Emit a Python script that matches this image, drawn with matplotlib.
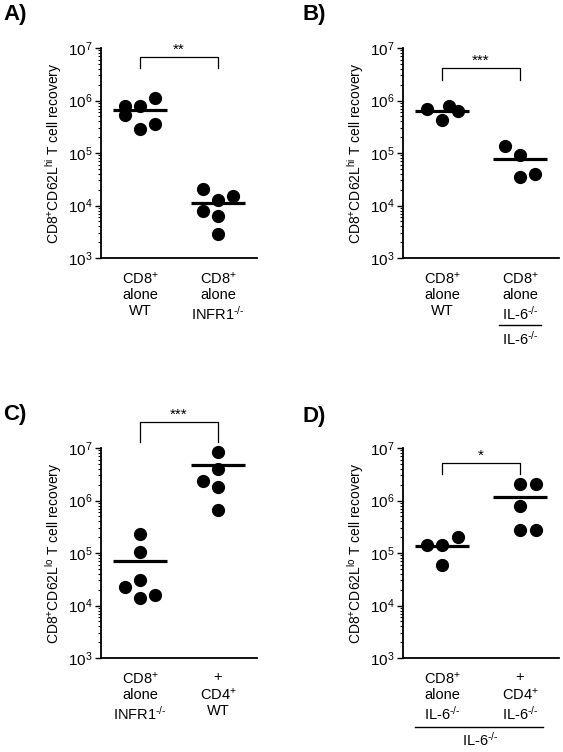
import numpy as np
import matplotlib
matplotlib.use("Agg")
import matplotlib.pyplot as plt
import matplotlib.transforms as mtransforms

plt.rcParams.update({
    "font.family": ["Liberation Sans", "DejaVu Sans"],
    "mathtext.fontset": "custom",
    "mathtext.rm": "Liberation Sans",
    "mathtext.it": "Liberation Sans:italic",
    "mathtext.bf": "Liberation Sans:bold",
    "font.size": 10,
})

KO = "$^{\\text{-/-}}$"

# panel A: CD62L hi recovery, WT vs INFR1-/-
a_labels = ["CD8$^{+}$\nalone\nWT", "CD8$^{+}$\nalone\nINFR1" + KO]
a_wt = [7.7e5, 5.3e5, 7.7e5, 2.9e5, 1.1e6, 3.5e5]
a_ko = [2.1e4, 7.9e3, 1.3e4, 6.2e3, 2.9e3, 1.55e4]
a_means = [6.5e5, 1.1e4]
a_sig = "**"

# panel B: CD62L hi recovery, WT vs IL-6-/-
b_labels = ["CD8$^{+}$\nalone\nWT", "CD8$^{+}$\nalone\nIL-6" + KO]
b_wt = [6.8e5, 4.2e5, 7.9e5, 6.2e5]
b_ko = [1.37e5, 9.1e4, 3.5e4, 3.9e4]
b_means = [6.4e5, 7.6e4]
b_sig = "***"

# panel C: CD62L lo recovery, INFR1-/- alone vs + CD4 WT
c_labels = ["CD8$^{+}$\nalone\nINFR1" + KO, "+\nCD4$^{+}$\nWT"]
c_alone = [2.26e5, 1.05e5, 3.0e4, 2.3e4, 1.4e4, 1.6e4]
c_cd4 = [8.4e6, 3.9e6, 2.4e6, 1.8e6, 6.6e5]
c_means = [6.9e4, 4.7e6]
c_sig = "***"

# panel D: CD62L lo recovery, IL-6-/- alone vs + CD4 IL-6-/-
d_labels = ["CD8$^{+}$\nalone\nIL-6" + KO, "+\nCD4$^{+}$\nIL-6" + KO]
d_alone = [1.45e5, 1.45e5, 6.0e4, 2.0e5]
d_cd4 = [2.1e6, 2.1e6, 7.7e5, 2.8e5, 2.8e5]
d_means = [1.38e5, 1.15e6]
d_sig = "*"

# horizontal scatter of the dots inside each column (layout only)
jit = {
    "a0": [-0.19, -0.19, 0, 0, 0.19, 0.19],
    "a1": [-0.19, -0.19, 0, 0, 0, 0.19],
    "b0": [-0.19, 0, 0.09, 0.2],
    "b1": [-0.19, 0, 0, 0.19],
    "c0": [0, 0, 0, -0.19, 0, 0.19],
    "c1": [0, 0, -0.19, 0, 0],
    "d0": [-0.19, 0, 0, 0.2],
    "d1": [0, 0.2, 0, 0, 0.2],
}

W, H = 563, 752
fig = plt.figure(figsize=(W / 100, H / 100), dpi=100)


def px_axes(left, top, right, bottom):
    return fig.add_axes([left / W, 1 - bottom / H, (right - left) / W, (bottom - top) / H])


def panel(ax, g0, g1, j0, j1, means, labels, ylabel, sig, br_y, br_end):
    for x, vals, j in ((0, g0, j0), (1, g1, j1)):
        ax.plot(x + np.array(j), vals, "o", color="black", markersize=8.5, clip_on=False)
    for x, m in zip((0, 1), means):
        ax.plot([x - 0.34, x + 0.34], [m, m], color="black", lw=2.3, solid_capstyle="butt")
    ax.set_yscale("log")
    ax.set_ylim(1e3, 1e7)
    ax.set_xlim(-0.5, 1.5)
    ax.set_xticks([0, 1])
    ax.set_xticklabels(labels, linespacing=1.15)
    ax.tick_params(axis="x", length=0, pad=9, labelsize=10.5)
    ax.tick_params(axis="y", which="major", direction="out", length=4, width=1, pad=2, labelsize=11)
    ax.tick_params(axis="y", which="minor", direction="out", length=2.2, width=0.8)
    ax.spines["top"].set_visible(False)
    ax.spines["right"].set_visible(False)
    ax.spines["left"].set_linewidth(1.3)
    ax.spines["bottom"].set_linewidth(1.3)
    ax.set_ylabel(ylabel, fontsize=10, labelpad=3)
    # significance bracket
    ax.plot([0, 0, 1, 1], [10 ** br_end, 10 ** br_y, 10 ** br_y, 10 ** br_end],
            color="black", lw=0.9, clip_on=False)
    ax.text(0.5, 10 ** br_y, sig, ha="center", va="bottom", fontsize=11, clip_on=False)


ylab_hi = "CD8$^{+}$CD62L$^{\\mathrm{hi}}$ T cell recovery"
ylab_lo = "CD8$^{+}$CD62L$^{\\mathrm{lo}}$ T cell recovery"

ax_a = px_axes(101, 48, 257, 258)
panel(ax_a, a_wt, a_ko, jit["a0"], jit["a1"], a_means, a_labels, ylab_hi, a_sig, 6.83, 6.61)

ax_b = px_axes(403, 48, 559, 258)
panel(ax_b, b_wt, b_ko, jit["b0"], jit["b1"], b_means, b_labels, ylab_hi, b_sig, 6.62, 6.40)

ax_c = px_axes(101, 448, 257, 658)
panel(ax_c, c_alone, c_cd4, jit["c0"], jit["c1"], c_means, c_labels, ylab_lo, c_sig, 7.49, 7.11)

ax_d = px_axes(403, 448, 559, 658)
panel(ax_d, d_alone, d_cd4, jit["d0"], jit["d1"], d_means, d_labels, ylab_lo, d_sig, 6.71, 6.50)

# host genotype bars under the x labels
tb = mtransforms.blended_transform_factory(ax_b.transData, ax_b.transAxes)
ax_b.plot([0.73, 1.27], [-0.319, -0.319], color="black", lw=1, transform=tb, clip_on=False)
ax_b.text(1.0, -0.386, "IL-6" + KO, ha="center", va="center", transform=tb, fontsize=10.5)

td = mtransforms.blended_transform_factory(ax_d.transData, ax_d.transAxes)
ax_d.plot([-0.35, 1.3], [-0.329, -0.329], color="black", lw=1, transform=td, clip_on=False)
ax_d.text(0.49, -0.39, "IL-6" + KO, ha="center", va="center", transform=td, fontsize=10.5)

# panel letters
for letter, x, y in (("A)", 3, 4), ("B)", 303, 4), ("C)", 3, 404), ("D)", 302, 406)):
    fig.text(x / W, 1 - y / H, letter, fontsize=16, fontweight="bold", ha="left", va="top")

fig.savefig("out.png", dpi=100)
